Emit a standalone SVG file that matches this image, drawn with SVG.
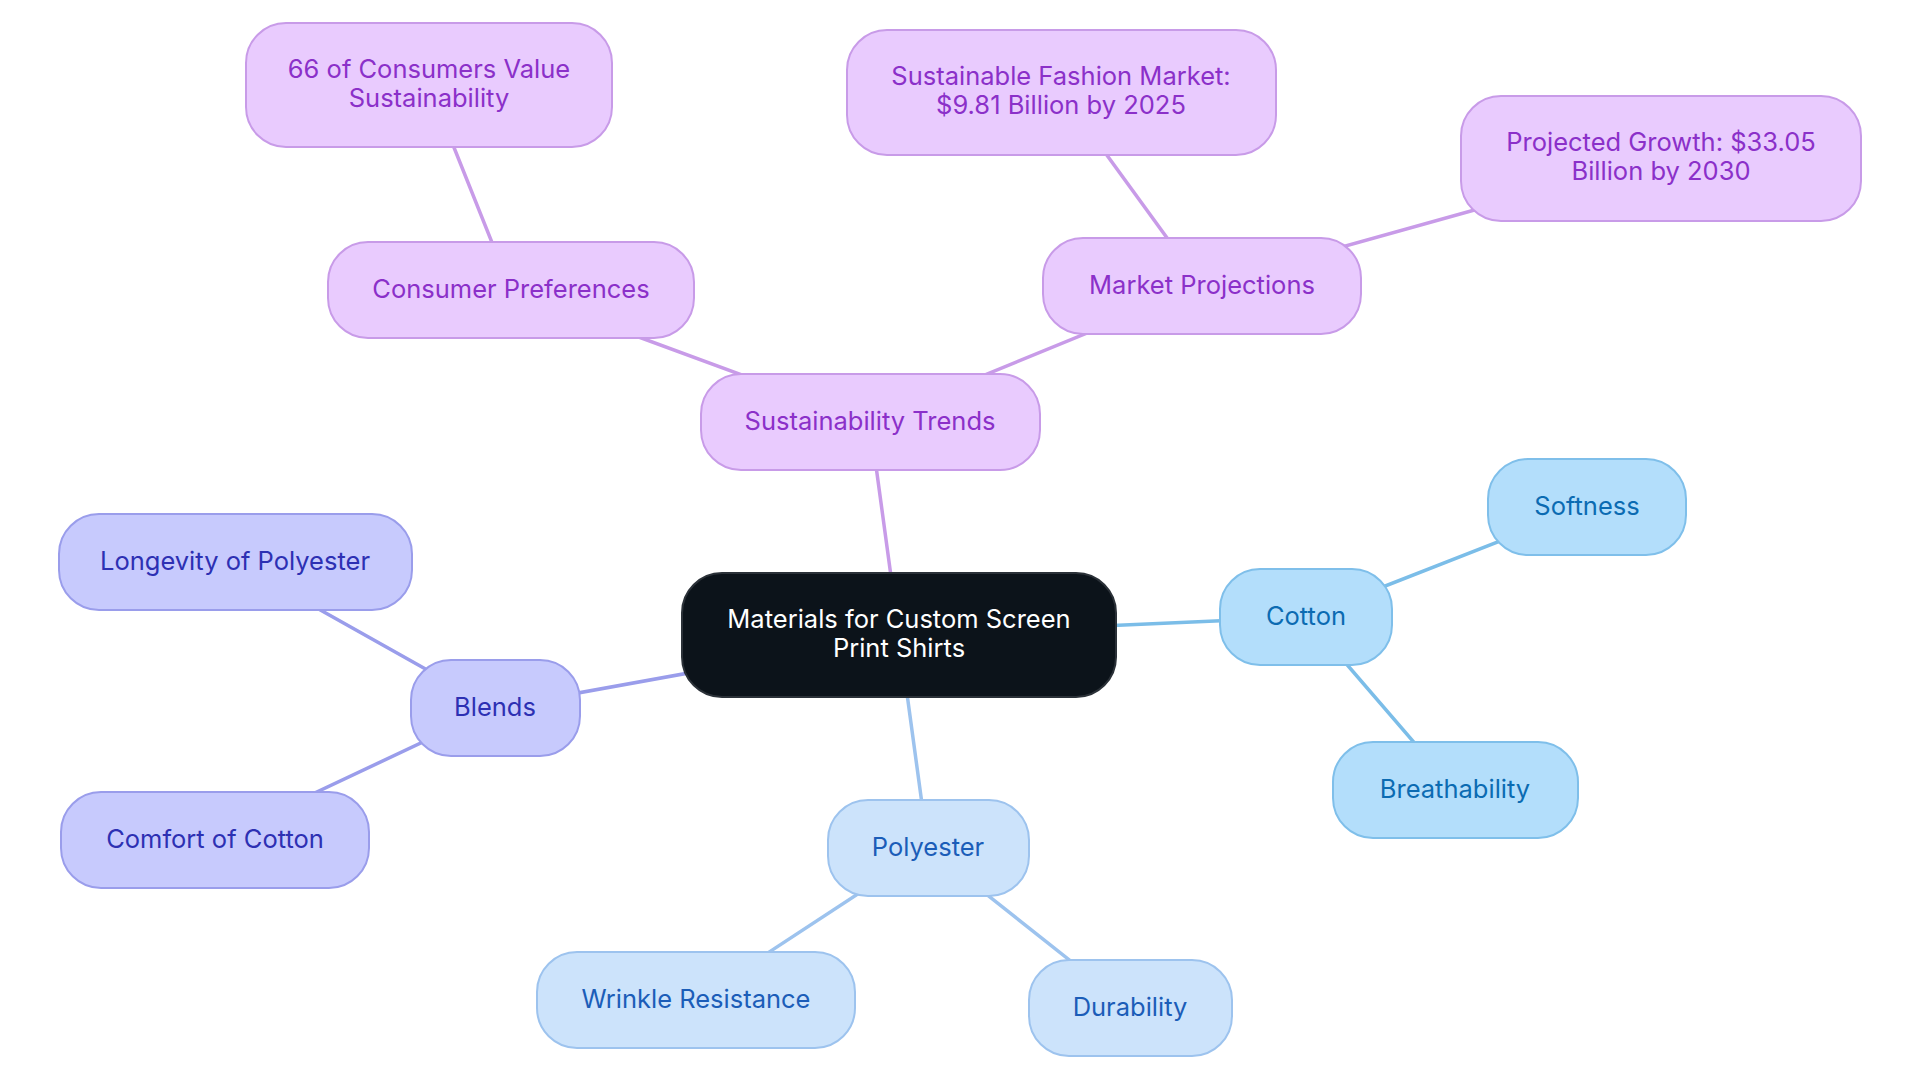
<svg xmlns="http://www.w3.org/2000/svg" width="1920" height="1083" viewBox="0 0 1920 1083">
<style>
text{font-family:Inter,"Noto Sans","Liberation Sans",sans-serif;font-size:25.5px;text-anchor:middle}
.p rect{fill:#E9CBFE;stroke:#C89BE8;stroke-width:2}
.p text{fill:#8B30C9}
.c rect{fill:#B3DEFB;stroke:#7FBFEA;stroke-width:2}
.c text{fill:#0B6BB2}
.y rect{fill:#CCE3FB;stroke:#9DC3EE;stroke-width:2}
.y text{fill:#1B5DB8}
.b rect{fill:#C7CAFD;stroke:#9A9DEB;stroke-width:2}
.b text{fill:#2D30B3}
#connectors line{stroke-width:3.5;stroke-linecap:round}
.lp{stroke:#C89BE8}.lc{stroke:#7BBDE8}.ly{stroke:#9DC3EE}.lb{stroke:#9A9DEB}
</style>
<rect width="1920" height="1083" fill="#ffffff"/>
<g id="connectors">
<line class="lp" x1="899" y1="635" x2="870" y2="422"/>
<line class="lc" x1="899" y1="635" x2="1306" y2="617"/>
<line class="ly" x1="899" y1="635" x2="928" y2="848"/>
<line class="lb" x1="899" y1="635" x2="495" y2="708"/>
<line class="lp" x1="870" y1="422" x2="511" y2="290"/>
<line class="lp" x1="870" y1="422" x2="1202" y2="286"/>
<line class="lp" x1="511" y1="290" x2="429" y2="85"/>
<line class="lp" x1="1202" y1="286" x2="1061" y2="92"/>
<line class="lp" x1="1202" y1="286" x2="1661" y2="158"/>
<line class="lc" x1="1306" y1="617" x2="1587" y2="507"/>
<line class="lc" x1="1306" y1="617" x2="1455" y2="790"/>
<line class="ly" x1="928" y1="848" x2="696" y2="1000"/>
<line class="ly" x1="928" y1="848" x2="1130" y2="1008"/>
<line class="lb" x1="495" y1="708" x2="235" y2="562"/>
<line class="lb" x1="495" y1="708" x2="215" y2="840"/>
</g>
<g id="center">
<rect x="682" y="573" width="434" height="124" rx="40" fill="#0C131A" stroke="#2B3138" stroke-width="2"/>
<text x="899" y="628" fill="#ffffff">Materials for Custom Screen</text>
<text x="899" y="657" fill="#ffffff">Print Shirts</text>
</g>
<g id="sustainability-trends" class="p">
<rect x="701" y="374" width="339" height="96" rx="40"/>
<text x="870" y="430">Sustainability Trends</text>
</g>
<g id="consumer-preferences" class="p">
<rect x="328" y="242" width="366" height="96" rx="40"/>
<text x="511" y="298">Consumer Preferences</text>
</g>
<g id="consumers-value" class="p">
<rect x="246" y="23" width="366" height="124" rx="40"/>
<text x="429" y="78">66 of Consumers Value</text>
<text x="429" y="107">Sustainability</text>
</g>
<g id="market-projections" class="p">
<rect x="1043" y="238" width="318" height="96" rx="40"/>
<text x="1202" y="294">Market Projections</text>
</g>
<g id="sustainable-fashion" class="p">
<rect x="847" y="30" width="429" height="125" rx="40"/>
<text x="1061" y="85">Sustainable Fashion Market:</text>
<text x="1061" y="114">$9.81 Billion by 2025</text>
</g>
<g id="projected-growth" class="p">
<rect x="1461" y="96" width="400" height="125" rx="40"/>
<text x="1661" y="151">Projected Growth: $33.05</text>
<text x="1661" y="180">Billion by 2030</text>
</g>
<g id="cotton" class="c">
<rect x="1220" y="569" width="172" height="96" rx="40"/>
<text x="1306" y="625">Cotton</text>
</g>
<g id="softness" class="c">
<rect x="1488" y="459" width="198" height="96" rx="40"/>
<text x="1587" y="515">Softness</text>
</g>
<g id="breathability" class="c">
<rect x="1333" y="742" width="245" height="96" rx="40"/>
<text x="1455" y="798">Breathability</text>
</g>
<g id="polyester" class="y">
<rect x="828" y="800" width="201" height="96" rx="40"/>
<text x="928" y="856">Polyester</text>
</g>
<g id="wrinkle-resistance" class="y">
<rect x="537" y="952" width="318" height="96" rx="40"/>
<text x="696" y="1008">Wrinkle Resistance</text>
</g>
<g id="durability" class="y">
<rect x="1029" y="960" width="203" height="96" rx="40"/>
<text x="1130" y="1016">Durability</text>
</g>
<g id="blends" class="b">
<rect x="411" y="660" width="169" height="96" rx="40"/>
<text x="495" y="716">Blends</text>
</g>
<g id="longevity" class="b">
<rect x="59" y="514" width="353" height="96" rx="40"/>
<text x="235" y="570">Longevity of Polyester</text>
</g>
<g id="comfort" class="b">
<rect x="61" y="792" width="308" height="96" rx="40"/>
<text x="215" y="848">Comfort of Cotton</text>
</g>
</svg>
